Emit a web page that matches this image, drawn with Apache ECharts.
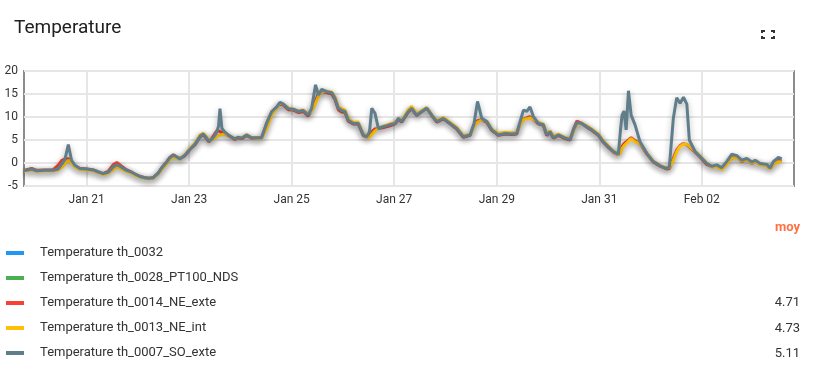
<!DOCTYPE html>
<html>
<head>
<meta charset="utf-8">
<script src="https://cdn.jsdelivr.net/npm/echarts@6/dist/echarts.min.js"></script>
<style>
html, body { margin: 0; padding: 0; background: #fff; }
#chart { width: 819px; height: 369px; }
</style>
</head>
<body>
<div id="chart"></div>
<script>
// series info
var seriesNames = [
  'Temperature th_0032',
  'Temperature th_0028_PT100_NDS',
  'Temperature th_0014_NE_exte',
  'Temperature th_0013_NE_int',
  'Temperature th_0007_SO_exte'
];
var seriesColors = ['#2196f3', '#4caf50', '#f44336', '#ffc107', '#607d8b'];
var moyennes = ['', '', '4.71', '4.73', '5.11'];

// sample times (MM-DD HH:mm)
var times = [
  '01-19 18:40','01-19 22:15',
  '01-20 00:35','01-20 04:30','01-20 08:15','01-20 10:35','01-20 12:25','01-20 13:50','01-20 15:25','01-20 16:55','01-20 18:30','01-20 20:50',
  '01-21 00:00','01-21 03:05','01-21 05:15','01-21 07:45','01-21 10:05','01-21 12:20','01-21 14:05','01-21 15:35','01-21 18:45','01-21 21:05','01-21 23:25',
  '01-22 01:25','01-22 03:20','01-22 05:10','01-22 07:10','01-22 09:30','01-22 11:15','01-22 13:30','01-22 15:00','01-22 16:35','01-22 18:15','01-22 19:40','01-22 22:00',
  '01-23 00:25','01-23 02:45','01-23 05:05','01-23 06:35','01-23 07:50','01-23 09:15','01-23 10:40','01-23 12:35','01-23 13:45','01-23 14:25','01-23 15:20','01-23 16:45','01-23 18:20','01-23 21:25','01-23 22:50',
  '01-24 00:35','01-24 02:55','01-24 05:15','01-24 07:35','01-24 09:55','01-24 12:15','01-24 14:40','01-24 17:00','01-24 18:30','01-24 20:05','01-24 22:25',
  '01-25 00:45','01-25 03:05','01-25 05:25','01-25 07:45','01-25 09:20','01-25 11:10','01-25 12:30','01-25 14:05','01-25 16:25','01-25 18:45','01-25 20:15','01-25 21:50','01-25 23:25',
  '01-26 00:58','01-26 02:30','01-26 04:50','01-26 07:10','01-26 09:30','01-26 11:10','01-26 12:25','01-26 13:30','01-26 15:00','01-26 16:35','01-26 18:55','01-26 22:00',
  '01-27 00:25','01-27 01:55','01-27 03:30','01-27 05:05','01-27 06:35','01-27 08:10','01-27 10:30','01-27 12:55','01-27 15:15','01-27 17:35','01-27 19:55','01-27 23:00',
  '01-28 02:10','01-28 05:15','01-28 08:20','01-28 11:30','01-28 13:20','01-28 15:00','01-28 17:00','01-28 19:20','01-28 21:40',
  '01-29 00:45','01-29 03:55','01-29 07:00','01-29 09:20','01-29 10:55','01-29 12:30','01-29 14:05','01-29 15:35','01-29 17:10','01-29 19:30','01-29 21:50','01-29 23:25',
  '01-30 01:00','01-30 02:30','01-30 04:50','01-30 08:00','01-30 10:20','01-30 11:55','01-30 13:30','01-30 15:50','01-30 18:10','01-30 20:30','01-30 23:35',
  '01-31 01:55','01-31 04:15','01-31 06:35','01-31 08:55','01-31 10:00','01-31 10:40','01-31 11:35','01-31 12:35','01-31 13:40','01-31 14:55','01-31 16:45','01-31 19:05','01-31 22:15',
  '02-01 01:20','02-01 04:30','02-01 07:35','02-01 08:50','02-01 09:35','02-01 10:40','02-01 12:15','02-01 13:50','02-01 15:25','02-01 17:00','02-01 18:10','02-01 20:50','02-01 23:10',
  '02-02 02:20','02-02 04:40','02-02 07:00','02-02 09:20','02-02 11:40','02-02 14:00','02-02 16:25','02-02 18:45','02-02 21:05','02-02 23:25',
  '02-03 01:00','02-03 03:20','02-03 06:25','02-03 08:00','02-03 09:30','02-03 11:50','02-03 13:25'
];

var th0032 = [];
var th0028 = [];

var th0014 = [
  -1.6,-1.2,
  -1.6,-1.5,-1.5,-0.5,0.6,0.9,0.9,0.2,-0.6,-1.2,
  -1.3,-1.5,-1.9,-2.3,-1.8,-0.4,0.1,-0.4,-1.5,-2.0,-2.6,
  -3.0,-3.2,-3.3,-3.2,-2.2,-1.0,0.3,1.2,1.8,1.3,0.9,1.6,
  3.0,4.0,5.7,6.2,5.5,4.6,5.4,6.8,7.0,7.0,6.6,6.3,6.0,5.1,5.5,
  5.3,6.0,5.4,5.4,5.5,8.6,11.1,12.1,13.0,12.6,11.6,
  11.5,11.0,11.2,10.2,11.5,13.5,15.0,15.6,15.3,15.0,13.8,11.6,11.1,
  11.0,9.1,8.5,8.5,6.0,5.6,6.2,6.8,7.4,7.5,7.7,8.1,
  8.5,9.5,8.9,10.0,11.1,11.8,10.3,11.2,12.0,10.3,8.9,9.6,
  8.5,7.4,5.6,6.0,8.3,9.2,9.4,8.8,7.1,
  6.0,6.3,6.2,6.3,8.5,9.6,9.8,10.1,9.5,8.5,8.2,6.0,
  6.7,5.4,6.0,5.3,5.0,7.3,9.1,8.6,7.8,7.1,6.0,
  4.5,3.4,2.4,1.8,2.8,3.6,4.2,4.6,5.0,5.5,4.8,4.2,2.0,
  0.2,-0.7,-1.3,-1.2,-0.2,1.0,2.8,3.8,4.2,4.0,3.5,2.4,1.3,
  -0.3,-0.8,-0.6,-1.1,0.0,1.4,1.3,0.3,0.8,-0.1,
  0.4,-0.3,-0.5,-1.1,0.0,0.6,0.4
];

var th0013 = [
  -1.8,-1.5,
  -1.8,-1.7,-1.7,-1.5,-0.9,-0.2,0.6,0.0,-0.8,-1.4,
  -1.5,-1.7,-2.0,-2.5,-2.2,-1.5,-0.9,-1.1,-1.8,-2.2,-2.8,
  -3.1,-3.3,-3.4,-3.3,-2.4,-1.3,-0.1,0.8,1.3,1.1,0.8,1.8,
  3.2,4.3,6.1,6.5,5.8,5.0,5.0,5.6,6.0,6.2,6.2,6.3,6.1,5.3,5.6,
  5.5,6.2,5.5,5.4,5.4,7.4,10.5,12.0,13.0,12.8,11.9,
  11.7,11.3,11.5,10.6,11.3,13.0,14.5,15.6,15.6,15.4,14.4,12.3,11.8,
  11.5,9.7,8.8,8.9,6.4,5.6,5.6,6.2,7.0,7.6,8.0,8.5,
  8.8,9.6,9.3,10.4,11.6,12.3,10.7,11.4,12.0,10.5,9.2,9.9,
  8.8,7.8,6.0,6.2,7.9,8.9,9.4,9.1,7.4,
  6.4,6.7,6.6,6.6,8.3,9.5,9.6,9.8,9.5,8.8,8.5,6.4,
  7.0,5.8,6.3,5.6,5.3,6.8,8.5,8.7,8.1,7.4,6.3,
  4.8,3.7,2.6,1.8,2.4,3.2,3.8,4.2,4.7,5.3,4.6,4.2,2.2,
  0.4,-0.5,-1.1,-1.0,-0.4,0.6,2.5,3.6,4.1,4.1,3.6,2.6,1.5,
  0.0,-0.8,-0.8,-1.4,-0.3,1.1,1.2,0.4,0.7,0.0,
  0.3,-0.4,-0.6,-1.3,-0.3,0.3,0.2
];

var th0007 = [
  -1.7,-1.3,
  -1.7,-1.6,-1.6,-1.3,-0.2,0.8,4.0,0.6,-0.5,-1.2,
  -1.3,-1.5,-1.9,-2.3,-2.0,-0.9,-0.4,-0.7,-1.6,-2.0,-2.6,
  -3.0,-3.2,-3.3,-3.2,-2.2,-1.0,0.2,1.2,1.7,1.3,0.9,1.7,
  3.0,4.1,5.8,6.3,5.6,4.7,5.2,6.4,8.0,11.8,7.5,6.7,6.1,5.2,5.6,
  5.4,6.1,5.5,5.5,5.5,8.6,11.2,12.2,13.2,12.8,11.8,
  11.7,11.2,11.4,10.4,11.9,17.0,14.8,16.0,15.5,15.3,14.1,11.9,11.4,
  11.2,9.3,8.6,8.6,6.1,5.7,6.8,11.9,10.8,7.5,7.9,8.3,
  8.6,9.7,9.0,10.1,11.2,11.9,10.4,11.2,11.9,10.4,9.0,9.7,
  8.6,7.5,5.7,6.1,8.5,13.4,9.7,9.0,7.2,
  6.1,6.4,6.3,6.4,9.0,11.5,11.2,12.2,10.1,8.6,8.3,6.1,
  6.8,5.5,6.1,5.4,5.1,7.2,8.8,8.6,7.9,7.2,6.1,
  4.6,3.5,2.5,1.9,7.5,10.4,11.3,7.2,15.7,10.4,8.3,4.6,2.1,
  0.3,-0.6,-1.2,-0.8,3.5,9.7,14.2,13.0,14.3,12.8,5.0,2.5,1.4,
  -0.1,-0.7,-0.4,-1.0,0.3,1.9,1.6,0.6,1.0,0.2,
  0.6,-0.1,-0.3,-1.1,0.3,1.2,0.9
];

var xTicks = ['01-21 00:00', '01-23 00:00', '01-25 00:00', '01-27 00:00', '01-29 00:00', '01-31 00:00', '02-02 00:00'];
var xRange = ['01-19 18:40', '02-03 19:10'];
var months = ['Jan', 'Feb', 'Mar', 'Apr', 'May', 'Jun', 'Jul', 'Aug', 'Sep', 'Oct', 'Nov', 'Dec'];

function toDate(s) {
  var p = s.split(/[- :]/);
  return new Date(2024, +p[0] - 1, +p[1], +p[2] || 0, +p[3] || 0).getTime();
}
function pad(n) { return n < 10 ? '0' + n : '' + n; }

var allValues = [th0032, th0028, th0014, th0013, th0007];

var chart = echarts.init(document.getElementById('chart'), null, { renderer: 'canvas' });

var series = allValues.map(function (vals, k) {
  return {
    name: seriesNames[k],
    type: 'line',
    showSymbol: false,
    symbol: 'none',
    color: seriesColors[k],
    lineStyle: {
      width: 3,
      color: seriesColors[k],
      shadowColor: 'rgba(0,0,0,0.3)',
      shadowBlur: 6,
      shadowOffsetY: 2
    },
    data: vals.map(function (v, i) { return [toDate(times[i]), v]; })
  };
});

var rowY = 253, rowStep = 25.1;
var graphics = [
  { type: 'text', style: { x: 800, y: 228, text: 'moy', align: 'right', verticalAlign: 'middle', fill: '#ff7043', font: 'bold 13px Roboto' } }
];
moyennes.forEach(function (m, i) {
  if (m) {
    graphics.push({ type: 'text', style: { x: 800, y: rowY + i * rowStep, text: m, align: 'right', verticalAlign: 'middle', fill: '#333', font: '13px Roboto' } });
  }
});
// fullscreen icon
[[[762,33],[762,31],[765,31]], [[771,31],[774,31],[774,33]], [[762,36],[762,38],[765,38]], [[771,38],[774,38],[774,36]]].forEach(function (pts) {
  graphics.push({ type: 'polyline', shape: { points: pts }, style: { stroke: '#333', lineWidth: 2, fill: null } });
});

var tickValues = xTicks.map(toDate);

var option = {
  animation: false,
  textStyle: { fontFamily: 'Roboto' },
  title: {
    text: 'Temperature',
    left: 9,
    top: 14,
    textStyle: { fontSize: 19, fontWeight: 'normal', color: '#212121', fontFamily: 'Roboto' }
  },
  legend: {
    orient: 'vertical',
    left: 6,
    top: 246,
    padding: 0,
    icon: 'rect',
    itemWidth: 18,
    itemHeight: 4,
    itemGap: 11,
    selectedMode: false,
    data: seriesNames,
    textStyle: { fontSize: 13, color: '#333', lineHeight: 14, padding: [0, 0, 0, 11] }
  },
  grid: {
    left: 24,
    right: 25,
    top: 71,
    bottom: 183,
    show: true,
    borderColor: '#8c8c8c',
    borderWidth: 2
  },
  xAxis: {
    type: 'value',
    min: toDate(xRange[0]),
    max: toDate(xRange[1]),
    axisLine: { show: false },
    axisTick: { show: false, customValues: tickValues },
    axisLabel: {
      customValues: tickValues,
      color: '#333',
      fontSize: 12,
      margin: 8,
      formatter: function (v) {
        var d = new Date(v);
        return months[d.getMonth()] + ' ' + pad(d.getDate());
      }
    },
    splitLine: { show: true, lineStyle: { color: '#e6e6e6', width: 2 } }
  },
  yAxis: {
    type: 'value',
    min: -5,
    max: 20,
    interval: 5,
    axisLine: { show: false },
    axisTick: { show: false },
    axisLabel: { color: '#333', fontSize: 12, margin: 6 },
    splitLine: { show: true, lineStyle: { color: '#e6e6e6', width: 2 } }
  },
  graphic: graphics,
  series: series
};

chart.setOption(option);
</script>
</body>
</html>
